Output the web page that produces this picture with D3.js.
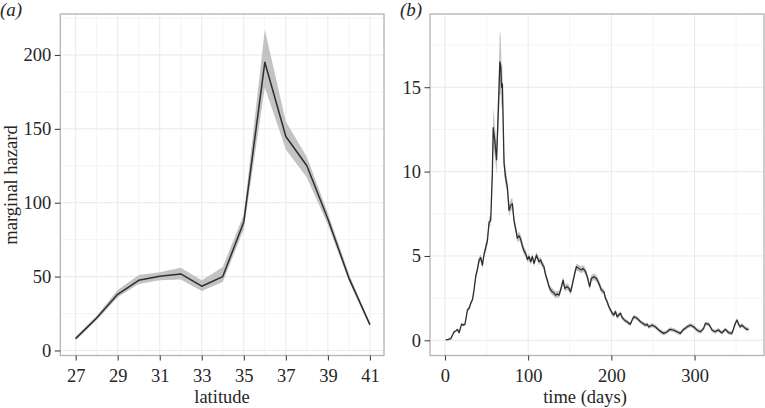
<!DOCTYPE html>
<html>
<head>
<meta charset="utf-8">
<script src="https://cdn.jsdelivr.net/npm/d3@7"></script>
<style>
  body { margin: 0; background: #fff; }
  text { font-family: "Liberation Serif", "DejaVu Serif", serif; fill: #262626; }
</style>
</head>
<body>
<svg id="chart"></svg>
<script>
// panel (a): marginal hazard by latitude
var latitude = [27, 28, 29, 30, 31, 32, 33, 34, 35, 36, 37, 38, 39, 40, 41];
var hazardA = [8, 22, 38, 47.5, 50.2, 51.8, 43.5, 50, 87, 195, 144.8, 125, 89, 49, 17.5];
var lowerA = [7, 20.5, 36, 45, 47.5, 48, 40.3, 46.4, 82, 178, 136, 117, 85, 47, 16];
var upperA = [9.5, 23.5, 41, 51, 53, 56, 47.5, 56.5, 92, 217, 155, 131, 93, 52, 18.5];
var latTicks = [27, 29, 31, 33, 35, 37, 39, 41];
var hazTicksA = [0, 50, 100, 150, 200];

// panel (b): marginal hazard through the year
var days = [1, 4, 7, 9, 11, 13, 15, 17, 19, 20,
  22, 24, 26, 27, 29, 31, 33, 35, 37, 39,
  41, 43, 45, 47, 49, 51, 53, 55, 57, 58,
  60, 62, 64, 66, 67, 68, 69, 71, 73, 75,
  77, 79, 81, 83, 85, 87, 89, 91, 93, 95,
  97, 99, 101, 103, 105, 107, 110, 113, 115, 117,
  119, 121, 123, 125, 127, 129, 131, 133, 135, 137,
  139, 142, 144, 147, 149, 151, 153, 156, 158, 161,
  164, 166, 169, 171, 174, 176, 179, 182, 185, 188,
  191, 193, 195, 197, 199, 201, 203, 205, 207, 209,
  211, 213, 215, 217, 219, 221, 223, 225, 227, 229,
  231, 233, 235, 238, 241, 243, 245, 247, 249, 251,
  253, 255, 257, 260, 263, 265, 267, 269, 271, 273,
  275, 277, 279, 281, 283, 285, 287, 289, 291, 293,
  295, 297, 299, 301, 303, 305, 307, 309, 311, 313,
  315, 317, 319, 321, 323, 325, 327, 329, 331, 333,
  335, 337, 339, 341, 343, 345, 347, 349, 351, 353,
  355, 357, 359, 361, 363, 365];
var hazardB = [0.02, 0.05, 0.1, 0.3, 0.5, 0.55, 0.65, 0.45, 0.8, 0.96,
  0.9, 0.95, 1.5, 1.8, 1.9, 2.2, 2.4, 3.0, 3.8, 4.2,
  4.75, 4.9, 4.45, 5.1, 5.5, 5.9, 7.0, 7.1, 10.0, 12.6,
  11.8, 10.7, 13.5, 16.5, 16.3, 15.0, 15.2, 10.5, 9.6, 9.1,
  7.7, 8.0, 8.1, 7.1, 6.6, 6.05, 6.2, 6.0, 5.6, 5.3,
  5.15, 4.8, 4.96, 4.66, 4.96, 4.56, 5.05, 4.66, 4.76, 4.5,
  4.36, 3.87, 3.57, 3.2, 2.98, 2.88, 2.8, 2.68, 2.75, 2.68,
  2.98, 3.57, 3.08, 3.18, 3.08, 2.88, 3.28, 3.97, 4.36, 4.26,
  4.17, 4.26, 4.07, 3.77, 3.18, 3.67, 3.77, 3.67, 3.38, 2.98,
  2.88, 2.49, 2.29, 1.99, 1.8, 1.6, 1.5, 1.7, 1.4, 1.5,
  1.6, 1.35, 1.24, 1.15, 1.1, 1.0, 0.96, 1.2, 1.4, 1.35,
  1.3, 1.2, 1.1, 1.0, 0.9, 0.95, 0.8, 0.85, 0.9, 0.85,
  0.8, 0.7, 0.61, 0.5, 0.41, 0.45, 0.51, 0.6, 0.65, 0.62,
  0.61, 0.55, 0.51, 0.45, 0.41, 0.55, 0.65, 0.72, 0.8, 0.85,
  0.9, 0.85, 0.8, 0.7, 0.61, 0.55, 0.51, 0.6, 0.71, 1.0,
  0.98, 0.96, 0.8, 0.61, 0.55, 0.51, 0.58, 0.61, 0.5, 0.45,
  0.55, 0.65, 0.55, 0.45, 0.43, 0.41, 0.7, 1.0, 1.2, 0.95,
  0.8, 0.9, 0.8, 0.72, 0.65, 0.65];
// half width of the confidence band, per point
var spreadB = [0.05, 0.05, 0.05, 0.05, 0.05, 0.05, 0.05, 0.05, 0.05, 0.05,
  0.08, 0.08, 0.1, 0.1, 0.1, 0.1, 0.12, 0.15, 0.2, 0.2,
  0.2, 0.2, 0.2, 0.2, 0.25, 0.25, 0.3, 0.3, 0.6, 1.2,
  0.9, 0.9, 1.2, 1.9, 1.7, 1.3, 1.0, 0.6, 0.5, 0.4,
  0.35, 0.35, 0.35, 0.3, 0.25, 0.25, 0.25, 0.25, 0.25, 0.25,
  0.2, 0.2, 0.2, 0.2, 0.2, 0.2, 0.2, 0.2, 0.2, 0.2,
  0.2, 0.2, 0.2, 0.2, 0.2, 0.2, 0.2, 0.2, 0.2, 0.2,
  0.2, 0.2, 0.2, 0.2, 0.2, 0.2, 0.2, 0.2, 0.2, 0.2,
  0.2, 0.2, 0.2, 0.2, 0.2, 0.2, 0.2, 0.2, 0.2, 0.2,
  0.15, 0.15, 0.15, 0.15, 0.15, 0.15, 0.15, 0.15, 0.15, 0.15,
  0.12, 0.12, 0.12, 0.12, 0.12, 0.12, 0.12, 0.12, 0.12, 0.12,
  0.12, 0.12, 0.12, 0.12, 0.12, 0.12, 0.12, 0.12, 0.12, 0.12,
  0.12, 0.12, 0.12, 0.12, 0.12, 0.12, 0.12, 0.12, 0.12, 0.12,
  0.12, 0.12, 0.12, 0.12, 0.12, 0.12, 0.12, 0.12, 0.12, 0.12,
  0.12, 0.12, 0.12, 0.12, 0.12, 0.12, 0.12, 0.12, 0.12, 0.12,
  0.12, 0.12, 0.12, 0.12, 0.12, 0.12, 0.12, 0.12, 0.12, 0.12,
  0.12, 0.12, 0.12, 0.12, 0.12, 0.12, 0.12, 0.12, 0.12, 0.12,
  0.12, 0.12, 0.12, 0.12, 0.12, 0.12];
var dayTicks = [0, 100, 200, 300];
var hazTicksB = [0, 5, 10, 15];

var width = 765, height = 408;
var svg = d3.select('#chart')
  .attr('width', width)
  .attr('height', height);

var fontSize = 18.5;

var panel = function (opt) {
  var x = opt.x, y = opt.y;
  var r = x.range(), ry = y.range();
  var g = svg.append('g');

  // minor + major grid
  g.selectAll('.vminor').data(opt.xMinor).enter().append('line')
    .attr('x1', d => x(d)).attr('x2', d => x(d))
    .attr('y1', ry[1]).attr('y2', ry[0])
    .style('stroke', '#f2f2f2').style('stroke-width', 0.8);
  g.selectAll('.hminor').data(opt.yMinor).enter().append('line')
    .attr('x1', r[0]).attr('x2', r[1])
    .attr('y1', d => y(d)).attr('y2', d => y(d))
    .style('stroke', '#f2f2f2').style('stroke-width', 0.8);
  g.selectAll('.vmajor').data(opt.xTicks).enter().append('line')
    .attr('x1', d => x(d)).attr('x2', d => x(d))
    .attr('y1', ry[1]).attr('y2', ry[0])
    .style('stroke', '#e6e6e6').style('stroke-width', 0.9);
  g.selectAll('.hmajor').data(opt.yTicks).enter().append('line')
    .attr('x1', r[0]).attr('x2', r[1])
    .attr('y1', d => y(d)).attr('y2', d => y(d))
    .style('stroke', '#e6e6e6').style('stroke-width', 0.9);

  // band and line
  var area = d3.area()
    .x(d => x(d.x))
    .y0(d => y(d.lo))
    .y1(d => y(d.hi));
  g.append('path').datum(opt.data)
    .attr('d', area)
    .style('fill', '#bdbdbd')
    .style('fill-opacity', 0.9);
  var line = d3.line().x(d => x(d.x)).y(d => y(d.v));
  g.append('path').datum(opt.data)
    .attr('d', line)
    .style('fill', 'none')
    .style('stroke', '#2e2e2e')
    .style('stroke-width', opt.lw)
    .style('stroke-linejoin', 'round');

  // border
  g.append('rect')
    .attr('x', r[0]).attr('y', ry[1])
    .attr('width', r[1] - r[0]).attr('height', ry[0] - ry[1])
    .style('fill', 'none')
    .style('stroke', '#b3b3b3')
    .style('stroke-width', 1.3);

  // axes
  var xa = g.append('g')
    .attr('transform', 'translate(0,' + ry[0] + ')')
    .call(d3.axisBottom(x).tickValues(opt.xTicks).tickSize(5).tickPadding(8).tickSizeOuter(0));
  var ya = g.append('g')
    .attr('transform', 'translate(' + r[0] + ',0)')
    .call(d3.axisLeft(y).tickValues(opt.yTicks).tickSize(5.5).tickPadding(3.5).tickSizeOuter(0));
  [xa, ya].forEach(function (a) {
    a.attr('font-family', 'Liberation Serif').attr('font-size', fontSize);
    a.select('.domain').remove();
    a.selectAll('line').style('stroke', '#333').style('stroke-width', 1);
    a.selectAll('text')
      .attr('font-family', 'Liberation Serif')
      .style('font-size', fontSize + 'px')
      .style('fill', '#262626');
  });

  g.append('text')
    .attr('x', opt.xTitleX)
    .attr('y', 403)
    .attr('text-anchor', 'middle')
    .style('font-size', fontSize + 'px')
    .text(opt.xTitle);

  g.append('text')
    .attr('x', opt.tagX)
    .attr('y', 16)
    .style('font-size', '19px')
    .style('font-style', 'italic')
    .text('(' + opt.tag + ')');
};

// (a)
var xA = d3.scaleLinear().domain([26.27, 41.67]).range([60.3, 384]);
var yA = d3.scaleLinear().domain([-3.4, 227.7]).range([355.5, 14]);
var dataA = latitude.map(function (d, i) {
  return {x: d, v: hazardA[i], lo: lowerA[i], hi: upperA[i]};
});
panel({
  x: xA, y: yA, data: dataA, lw: 1.5,
  xTicks: latTicks, yTicks: hazTicksA,
  xMinor: [28, 30, 32, 34, 36, 38, 40],
  yMinor: [25, 75, 125, 175, 225],
  xTitle: 'latitude', xTitleX: 222,
  tag: 'a', tagX: 0
});

svg.append('text')
  .attr('transform', 'translate(17,185) rotate(-90)')
  .attr('text-anchor', 'middle')
  .style('font-size', fontSize + 'px')
  .text('marginal hazard');

// (b)
var xB = d3.scaleLinear().domain([-18, 383.5]).range([430, 764]);
var yB = d3.scaleLinear().domain([-0.9, 19.34]).range([355.5, 14]);
var dataB = days.map(function (d, i) {
  return {x: d, v: hazardB[i], lo: hazardB[i] - spreadB[i], hi: hazardB[i] + spreadB[i]};
});
panel({
  x: xB, y: yB, data: dataB, lw: 1.3,
  xTicks: dayTicks, yTicks: hazTicksB,
  xMinor: [50, 150, 250, 350],
  yMinor: [2.5, 7.5, 12.5, 17.5],
  xTitle: 'time (days)', xTitleX: 585,
  tag: 'b', tagX: 400
});
</script>
</body>
</html>
